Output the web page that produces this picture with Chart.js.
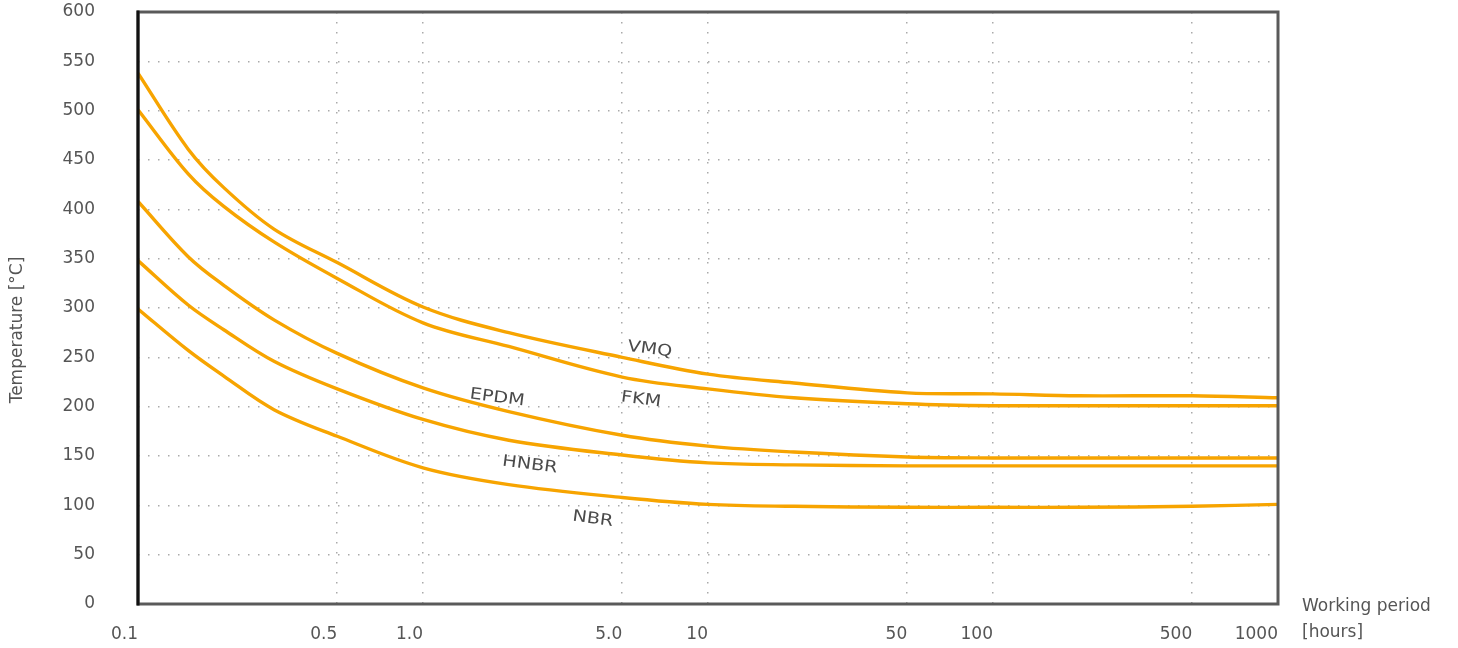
<!DOCTYPE html>
<html>
<head>
<meta charset="utf-8">
<script src="https://cdn.jsdelivr.net/npm/chart.js@4.4.1/dist/chart.umd.min.js"></script>
<style>
  html, body { margin: 0; padding: 0; background: #fff; }
  #wrap { width: 1458px; height: 648px; }
</style>
</head>
<body>
<div id="wrap"><canvas id="myChart" width="1458" height="648"></canvas></div>
<script>
// working period in hours (x) and max temperature in °C (y)
const HOURS = [0.1, 0.15, 0.2, 0.3, 0.5, 1, 2, 5, 10, 20, 50, 100, 200, 500, 1000]
const VMQ = [538, 461, 422, 380, 346, 301, 275, 250, 233, 224, 214, 213, 211, 211, 209]
const FKM = [501, 436, 403, 367, 330, 285, 261, 230, 218, 209, 203, 201, 201, 201, 201]
const EPDM = [408, 352, 323, 288, 254, 219, 195, 171, 160, 154, 149, 148, 148, 148, 148]
const HNBR = [348, 303, 278, 246, 218, 187, 166, 151, 143, 141, 140, 140, 140, 140, 140]
const NBR = [299, 257, 231, 197, 170, 138, 121, 108, 101, 99, 98, 98, 98, 99, 101]

const X_TICKS = [0.1, 0.5, 1, 5, 10, 50, 100, 500, 1000]
const X_TICK_LABELS = ["0.1", "0.5", "1.0", "5.0", "10", "50", "100", "500", "1000"]

// curve names written on the chart, placed in data coordinates
const CURVE_LABELS = [
  { text: "VMQ", x: 6.25, y: 258 },
  { text: "FKM", x: 5.82, y: 207 },
  { text: "EPDM", x: 1.82, y: 209 },
  { text: "HNBR", x: 2.37, y: 141 },
  { text: "NBR", x: 3.94, y: 86 },
]

const LINE_COLOR = "#f7a400"
const TEXT_COLOR = "#555"
const FONT = "DejaVu Sans"

function toPoints(values) {
  return HOURS.map((h, i) => ({ x: h, y: values[i] }))
}

const series = [VMQ, FKM, EPDM, HNBR, NBR]

const extrasPlugin = {
  id: "extras",
  afterDatasetsDraw(chart) {
    const { ctx, chartArea: a, scales } = chart
    ctx.save()
    // frame
    ctx.lineWidth = 3
    ctx.strokeStyle = "#5a5a5a"
    ctx.strokeRect(a.left, a.top, a.right - a.left, a.bottom - a.top)
    ctx.strokeStyle = "#111"
    ctx.beginPath()
    ctx.moveTo(a.left, a.top - 1.5)
    ctx.lineTo(a.left, a.bottom + 1.5)
    ctx.stroke()
    // curve names
    ctx.fillStyle = "#4a4a4a"
    ctx.font = `16px "${FONT}"`
    ctx.textAlign = "center"
    ctx.textBaseline = "middle"
    CURVE_LABELS.forEach(({ text, x, y }) => {
      ctx.save()
      ctx.translate(scales.x.getPixelForValue(x), scales.y.getPixelForValue(y))
      ctx.rotate(0.13)
      ctx.scale(1.2, 1)
      ctx.fillText(text, 0, 0)
      ctx.restore()
    })
    // axis titles
    ctx.fillStyle = TEXT_COLOR
    ctx.font = `17px "${FONT}"`
    ctx.textAlign = "left"
    ctx.fillText("Working period", a.right + 24, a.bottom + 3)
    ctx.fillText("[hours]", a.right + 24, a.bottom + 29)
    ctx.save()
    ctx.translate(18, 330)
    ctx.rotate(-Math.PI / 2)
    ctx.textAlign = "center"
    ctx.fillText("Temperature [°C]", 0, 0)
    ctx.restore()
    ctx.restore()
  },
}

const config = {
  type: "line",
  data: {
    datasets: series.map((values) => ({
      data: toPoints(values),
      borderColor: LINE_COLOR,
      borderWidth: 3.4,
      pointRadius: 0,
      fill: false,
      tension: 0.35,
    })),
  },
  options: {
    responsive: false,
    animation: false,
    devicePixelRatio: 1,
    layout: { padding: { top: 12, right: 180, left: 0, bottom: 0 } },
    plugins: { legend: { display: false }, tooltip: { enabled: false } },
    scales: {
      x: {
        type: "logarithmic",
        min: 0.1,
        max: 1000,
        afterBuildTicks: (scale) => {
          scale.ticks = X_TICKS.map((v) => ({ value: v }))
        },
        afterFit: (scale) => {
          scale.height = 44
        },
        grid: {
          color: "#aaa",
          lineWidth: 1.5,
          drawTicks: true,
          tickLength: 20,
          tickColor: "rgba(0,0,0,0)",
        },
        border: { display: false, dash: [1.5, 8.5] },
        ticks: {
          autoSkip: false,
          maxRotation: 0,
          align: "end",
          padding: 0,
          color: TEXT_COLOR,
          font: { family: FONT, size: 17 },
          callback: (value, index) => X_TICK_LABELS[index],
        },
      },
      y: {
        min: 0,
        max: 600,
        afterFit: (scale) => {
          scale.width = 138
        },
        grid: {
          color: "#aaa",
          lineWidth: 1.5,
          drawTicks: true,
          tickLength: 43,
          tickColor: "rgba(0,0,0,0)",
        },
        border: { display: false, dash: [1.5, 8.5] },
        ticks: {
          stepSize: 50,
          padding: 0,
          color: TEXT_COLOR,
          font: { family: FONT, size: 17 },
        },
      },
    },
  },
  plugins: [extrasPlugin],
}

new Chart(document.getElementById("myChart").getContext("2d"), config)
</script>
</body>
</html>
